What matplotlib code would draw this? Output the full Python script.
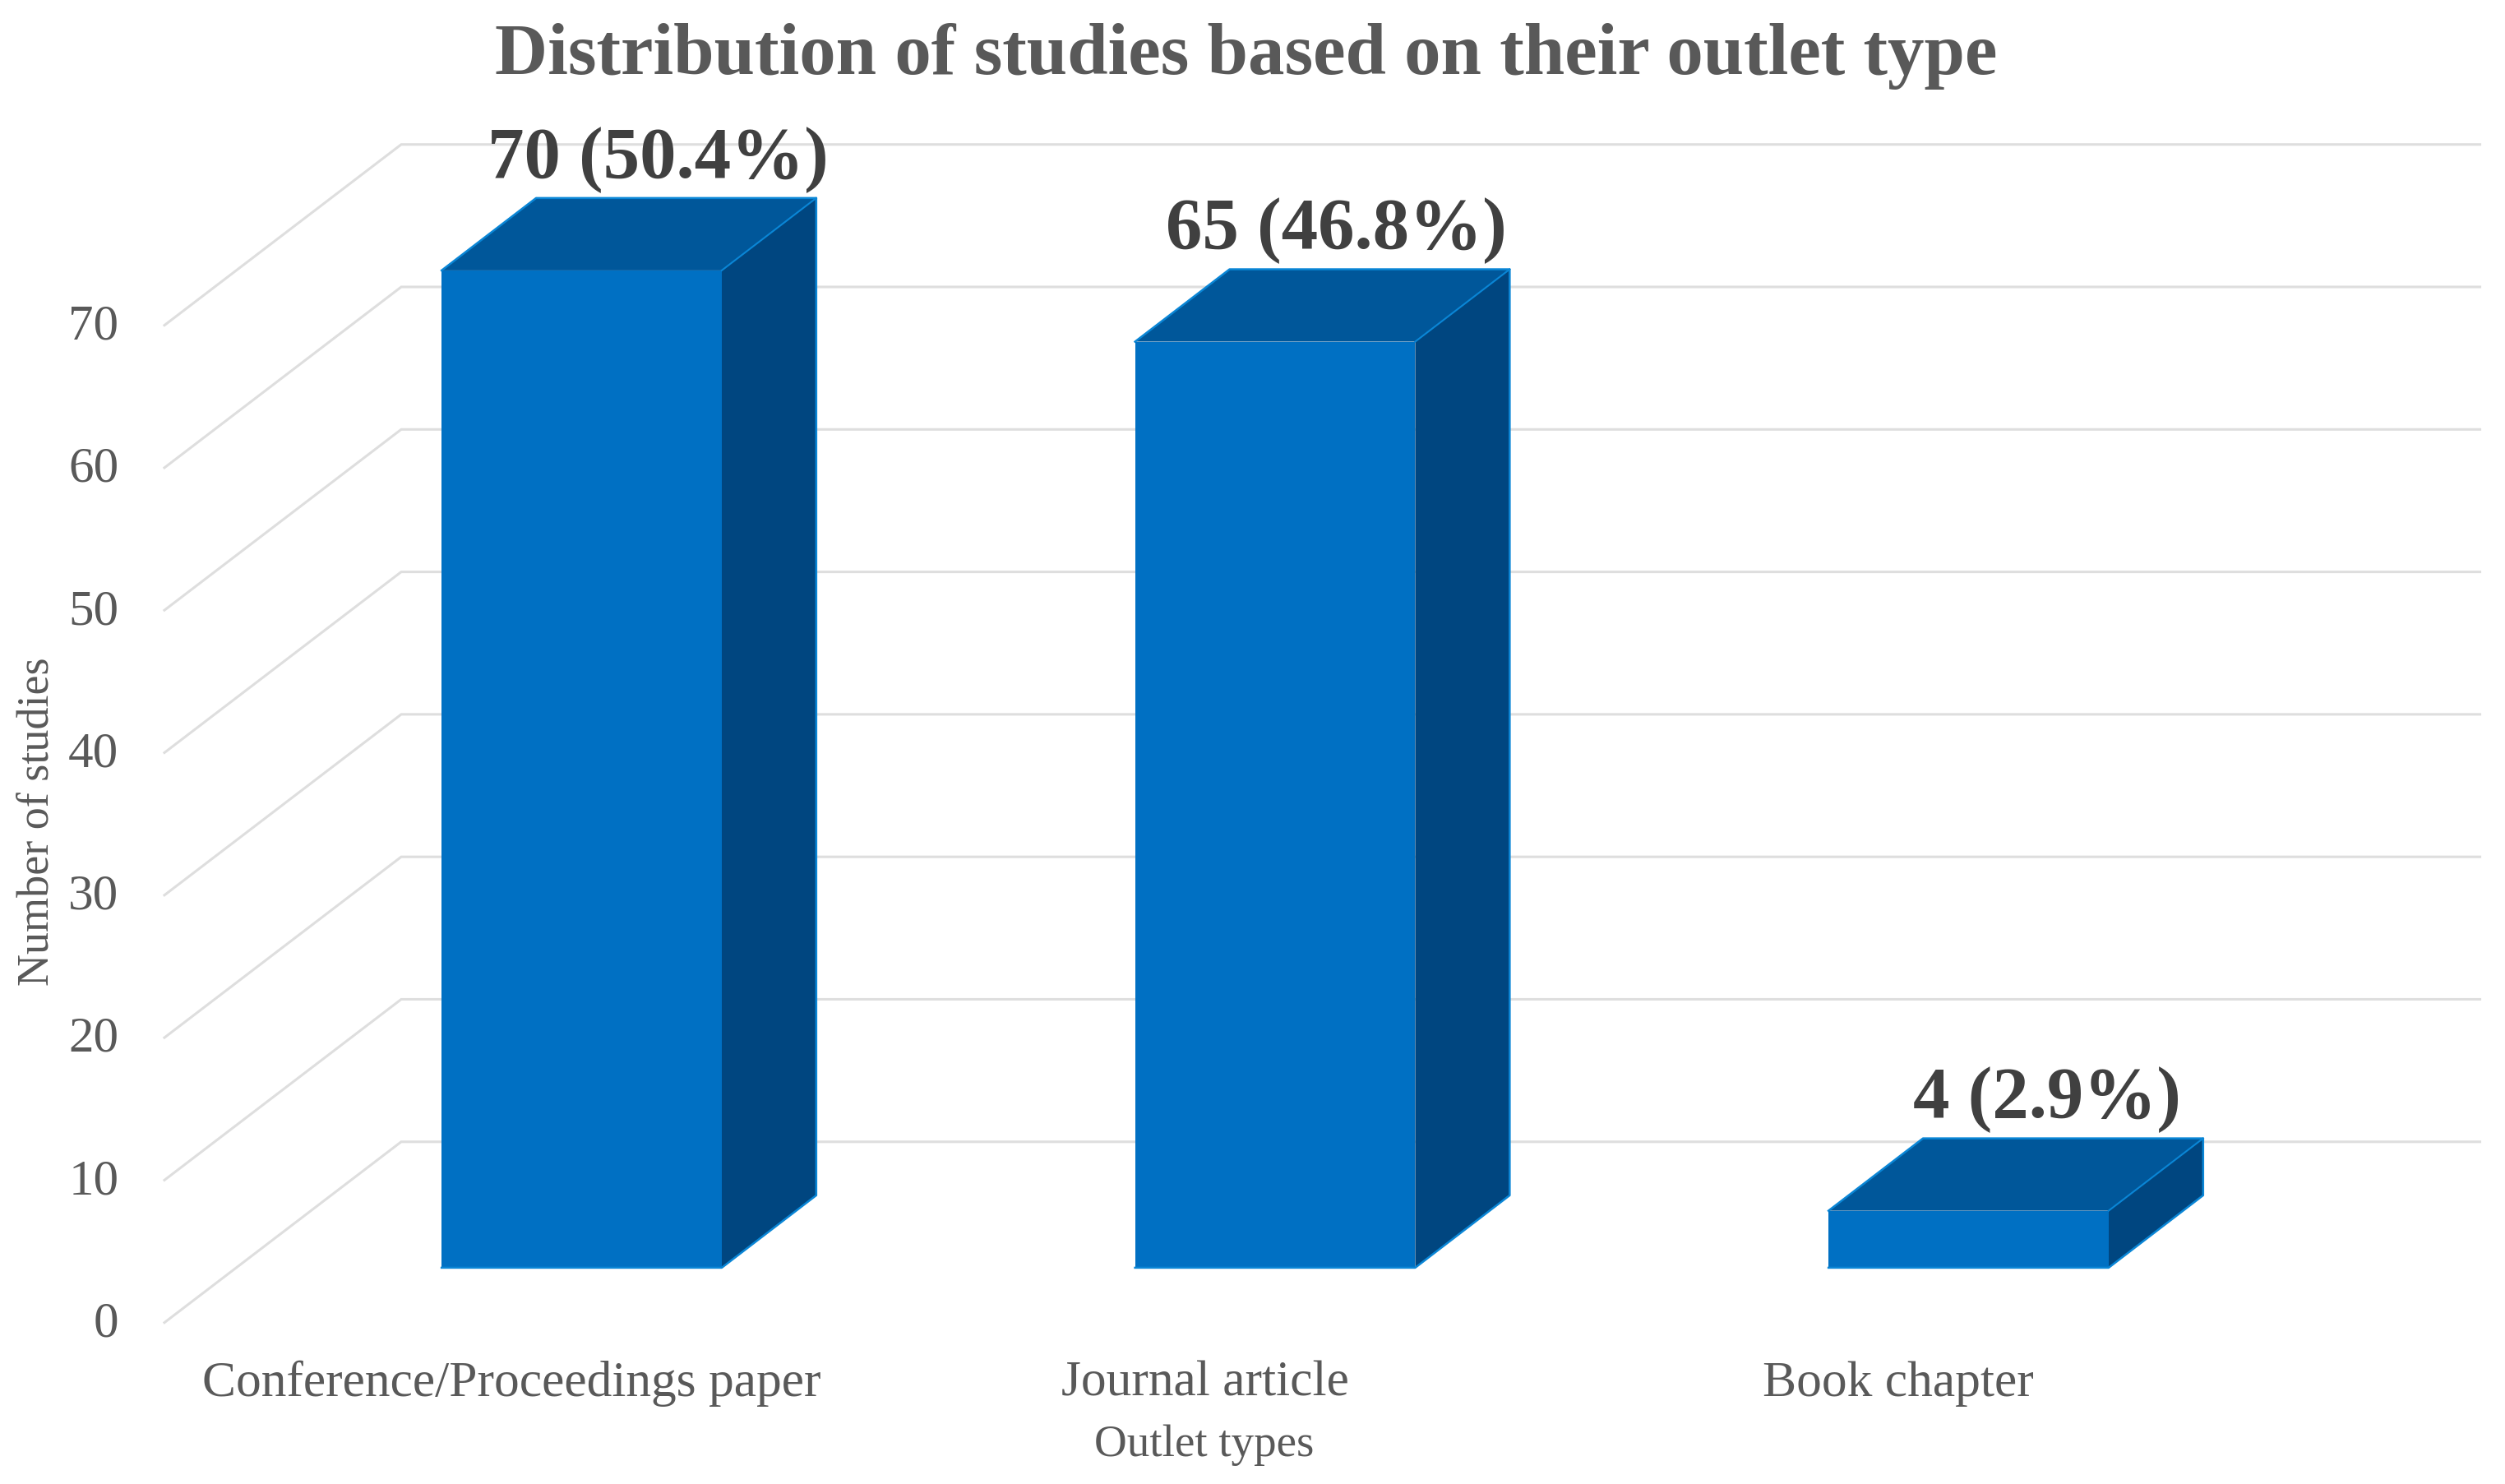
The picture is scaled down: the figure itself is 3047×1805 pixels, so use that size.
import matplotlib
matplotlib.use("Agg")
import matplotlib.pyplot as plt
from matplotlib.patches import Polygon

outlet_types = ["Conference/Proceedings paper", "Journal article", "Book chapter"]
study_counts = [70, 65, 4]
count_labels = ["70 (50.4%)", "65 (46.8%)", "4 (2.9%)"]
y_ticks = [0, 10, 20, 30, 40, 50, 60, 70]

# look of the fake 3D box
bar_width = 0.404
depth_x = 0.1363
depth_y = 5.08
label_shift = [0.11, 0.088, 0.113]

FRONT = "#0070C3"
SIDE = "#004680"
TOP = "#00579A"
EDGE = "#0A86D6"
GRID = "#DEDEDE"
TEXT = "#595959"
LABEL = "#404040"

plt.rcParams["font.family"] = ["Liberation Serif", "DejaVu Serif"]


def draw_grid(ax):
    # floor/wall lines, each tick has a diagonal part and a long back part
    for v in y_ticks:
        ax.plot([-0.6017, -0.2602, 2.7375], [v - 3.85, v + 8.84, v + 8.84],
                color=GRID, linewidth=2.2, solid_joinstyle="miter", zorder=1)
        ax.text(-0.6675, v - 3.97, str(v), ha="right", va="center",
                fontsize=44, color=TEXT)


def draw_box(ax, x, value):
    left = x - bar_width / 2
    right = x + bar_width / 2

    ax.bar(x, value, width=bar_width, color=FRONT, zorder=3)

    top = [(left, value), (right, value),
           (right + depth_x, value + depth_y), (left + depth_x, value + depth_y)]
    side = [(right, 0), (right + depth_x, depth_y),
            (right + depth_x, value + depth_y), (right, value)]

    ax.add_patch(Polygon(top, facecolor=TOP, edgecolor="none", zorder=2))
    ax.add_patch(Polygon(side, facecolor=SIDE, edgecolor="none", zorder=2))

    # thin lighter outline along the outer edges
    ax.plot([left, left + depth_x, right + depth_x, right + depth_x, right, left],
            [value, value + depth_y, value + depth_y, depth_y, 0, 0],
            color=EDGE, linewidth=1.8, zorder=4)
    ax.plot([right, right + depth_x], [value, value + depth_y],
            color=EDGE, linewidth=1.5, zorder=4)


fig = plt.figure(figsize=(30.47, 18.05), dpi=100, facecolor="white")
ax = fig.add_axes([0, 0, 1, 1])
ax.set_xlim(-0.8388, 2.7736)
ax.set_ylim(-15.18, 88.98)
ax.axis("off")

draw_grid(ax)

for i, value in enumerate(study_counts):
    draw_box(ax, i, value)
    ax.text(i + label_shift[i], value + depth_y + 1.45, count_labels[i], ha="center",
            va="baseline", fontsize=64, fontweight="bold", color=LABEL, zorder=5)
    ax.text(i - 0.101, -9.0, outlet_types[i], ha="center", va="baseline",
            fontsize=44.3, color=TEXT)

ax.text(0.898, -13.2, "Outlet types", ha="center", va="baseline", fontsize=39.6, color=TEXT)
ax.text(-0.785, 31.3, "Number of studies", ha="center", va="center",
        rotation=90, fontsize=39, color=TEXT)
ax.text(0.958, 83.8, "Distribution of studies based on their outlet type", ha="center",
        va="baseline", fontsize=64, fontweight="bold", color=TEXT)

fig.savefig("out.png", dpi=100, facecolor="white")
